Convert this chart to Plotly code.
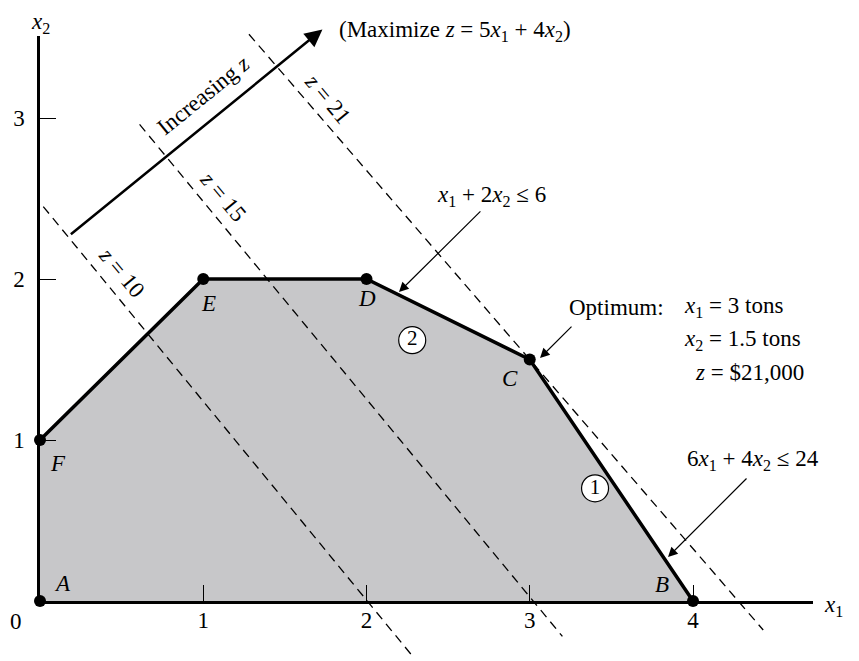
import plotly.graph_objects as go

# ---------------- data ----------------
vert_labels = ['A', 'B', 'C', 'D', 'E', 'F']
vert_x = [0, 4, 3, 2, 1, 0]
vert_y = [0, 0, 1.5, 2, 2, 1]

# feasible region polygon (A-B-C-D-E-F)
region_x = [0, 4, 3, 2, 1, 0]
region_y = [0, 0, 1.5, 2, 2, 1]
# constraint boundary (F-E-D-C-B)
edge_x = [0, 1, 2, 3, 4]
edge_y = [1, 2, 2, 1.5, 0]

# objective lines z = const (endpoints as drawn)
z_values = [10, 15, 21]
z_line_x = [[0.02, 2.28], [0.61, 3.20], [1.28, 4.43]]
z_line_y = [[2.45, -0.34], [2.96, -0.22], [3.52, -0.18]]

# increasing-z direction arrow
dir_x = [0.18, 1.73]
dir_y = [2.27, 3.55]

# circled constraint numbers
circ_labels = ['1', '2']
circ_x = [3.40, 2.28]
circ_y = [0.70, 1.62]

x_ticks = [1, 2, 3, 4]
y_ticks = [1, 2, 3]

# ---------------- layout constants ----------------
W, H = 859, 661
OX, OY = 40, 601          # pixel position of origin
SX, SY = 163.25, 161.0    # pixels per unit
FONT = 'Liberation Serif'
FS = 23

fig = go.Figure()

fig.add_trace(go.Scatter(x=region_x, y=region_y, fill='toself', fillcolor='#c7c7c9',
                         mode='lines', line=dict(width=0), hoverinfo='skip', showlegend=False))

for xs, ys in zip(z_line_x, z_line_y):
    fig.add_trace(go.Scatter(x=xs, y=ys, mode='lines',
                             line=dict(color='black', width=1.3, dash='9px,6px'),
                             showlegend=False, hoverinfo='skip'))

fig.add_trace(go.Scatter(x=edge_x, y=edge_y, mode='lines',
                         line=dict(color='black', width=3.5), showlegend=False))

fig.add_trace(go.Scatter(x=vert_x, y=vert_y, mode='markers',
                         marker=dict(color='black', size=12), showlegend=False))

fig.add_trace(go.Scatter(x=circ_x, y=circ_y, mode='markers+text', text=circ_labels,
                         textposition='middle center',
                         textfont=dict(family=FONT, size=21, color='black'),
                         marker=dict(color='white', size=27, line=dict(color='black', width=1.2)),
                         showlegend=False))

# empty trace for the visible axes subplot
fig.add_trace(go.Scatter(x=[], y=[], xaxis='x2', yaxis='y2', showlegend=False))

ann = []
def txt(x, y, t, angle=0, xanchor='center', size=FS):
    ann.append(dict(x=x, y=y, xref='x', yref='y', text=t, showarrow=False,
                    textangle=angle, xanchor=xanchor, yanchor='middle',
                    font=dict(family=FONT, size=size, color='black')))

def arrow(x, y, ax, ay, width=1.2, size=1.6):
    ann.append(dict(x=x, y=y, ax=ax, ay=ay, xref='x', yref='y', axref='x', ayref='y',
                    text='', showarrow=True, arrowhead=2, arrowsize=size,
                    arrowwidth=width, arrowcolor='black', standoff=0))

# vertex labels
lab_pos = {'A': (0.135, 0.106), 'B': (3.81, 0.10), 'C': (2.88, 1.385),
           'D': (2.0, 1.88), 'E': (1.035, 1.85), 'F': (0.11, 0.857)}
for lbl in vert_labels:
    px, py = lab_pos[lbl]
    txt(px, py, f'<i>{lbl}</i>')

# axis titles and origin
txt(0.0, 3.59, '<i>x</i><sub>2</sub>')
txt(4.86, -0.03, '<i>x</i><sub>1</sub>')
txt(-0.15, -0.13, '0')

# objective
txt(1.82, 3.54, '(Maximize <i>z</i> = 5<i>x</i><sub>1</sub> + 4<i>x</i><sub>2</sub>)', xanchor='left')
arrow(dir_x[1], dir_y[1], dir_x[0], dir_y[0], width=2.5, size=1.4)
txt(1.0, 3.14, 'Increasing <i>z</i>', angle=-39)

# z labels
z_lab_pos = [(0.50, 2.04), (1.12, 2.51), (1.76, 3.12)]
for zv, (px, py) in zip(z_values, z_lab_pos):
    txt(px, py, f'<i>z</i> = {zv}', angle=50)

# constraints
txt(2.763, 2.516, '<i>x</i><sub>1</sub> + 2<i>x</i><sub>2</sub> ≤ 6')
arrow(2.199, 1.919, 2.707, 2.429)
txt(4.368, 0.876, '6<i>x</i><sub>1</sub> + 4<i>x</i><sub>2</sub> ≤ 24')
arrow(3.847, 0.273, 4.337, 0.770)

# optimum
txt(3.228, 1.826, 'Optimum:', xanchor='left')
txt(3.933, 1.826, '<i>x</i><sub>1</sub> = 3 tons', xanchor='left')
txt(3.933, 1.621, '<i>x</i><sub>2</sub> = 1.5 tons', xanchor='left')
txt(4.0, 1.422, '<i>z</i> = $21,000', xanchor='left')
arrow(3.063, 1.509, 3.265, 1.714)

fig.update_layout(
    width=W, height=H, margin=dict(l=0, r=0, t=0, b=0),
    paper_bgcolor='white', plot_bgcolor='rgba(0,0,0,0)',
    showlegend=False, annotations=ann,
    xaxis=dict(range=[-OX / SX, (W - OX) / SX], visible=False, domain=[0, 1]),
    yaxis=dict(range=[-(H - OY) / SY, OY / SY], visible=False, domain=[0, 1]),
    xaxis2=dict(anchor='y2', domain=[OX / W, 813 / W], range=[0, (813 - OX) / SX],
                showline=True, linewidth=2.5, linecolor='black', mirror=False,
                ticks='inside', ticklen=16, tickwidth=1.2, tickcolor='black',
                tickvals=x_ticks, ticktext=[str(t) for t in x_ticks],
                tickfont=dict(family=FONT, size=FS, color='black'),
                ticklabelstandoff=-3,
                showgrid=False, zeroline=False, fixedrange=True),
    yaxis2=dict(anchor='x2', domain=[(H - OY) / H, (H - 36) / H], range=[0, (OY - 36) / SY],
                showline=True, linewidth=2.5, linecolor='black',
                ticks='inside', ticklen=16, tickwidth=1.2, tickcolor='black',
                tickvals=y_ticks, ticktext=[str(t) for t in y_ticks],
                tickfont=dict(family=FONT, size=FS, color='black'),
                ticklabelstandoff=8,
                showgrid=False, zeroline=False, fixedrange=True),
)

fig.write_html('out.html', config={'displayModeBar': False},
               post_script="document.body.style.margin='0';")
